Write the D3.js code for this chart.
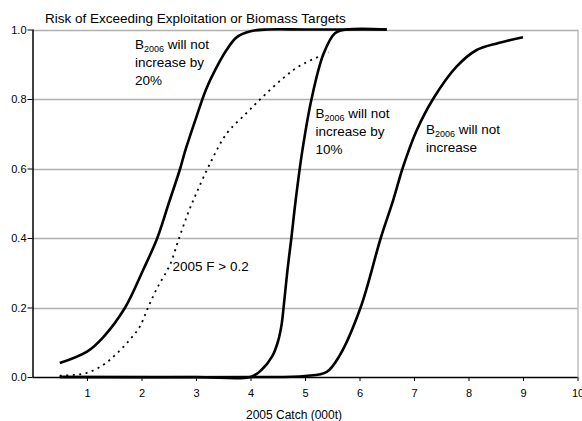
<!DOCTYPE html>
<html>
<head>
<meta charset="utf-8">
<script src="https://cdn.jsdelivr.net/npm/d3@7"></script>
<style>
  body { margin: 0; background: #fff; }
  text { font-family: 'Liberation Sans', Arial, sans-serif; fill: #000; }
</style>
</head>
<body>
<div id="chart"></div>
<script>
'use strict';

var xTicks = [1, 2, 3, 4, 5, 6, 7, 8, 9, 10];
var yTicks = [0, 0.2, 0.4, 0.6, 0.8, 1.0];

// B2006 will not increase by 20%
var inc20X = [0.5, 1.0, 1.3, 1.7, 2.03, 2.29, 2.5, 2.71, 2.8, 3.0, 3.18, 3.35, 3.56, 3.75, 4.0, 4.3, 5.0, 6.5];
var inc20Y = [0.04, 0.073, 0.115, 0.2, 0.308, 0.40, 0.50, 0.60, 0.65, 0.745, 0.826, 0.883, 0.941, 0.978, 0.995, 1.0, 1.0, 1.0];

// 2005 F > 0.2
var fX = [0.5, 0.75, 1.0, 1.3, 1.55, 1.8, 1.97, 2.12, 2.3, 2.52, 2.69, 2.85, 3.01, 3.26, 3.56, 3.93, 4.23, 4.6, 4.9, 5.43];
var fY = [0.004, 0.006, 0.012, 0.035, 0.068, 0.11, 0.145, 0.20, 0.26, 0.322, 0.40, 0.47, 0.53, 0.615, 0.70, 0.76, 0.807, 0.86, 0.895, 0.934];

// B2006 will not increase by 10%
var inc10X = [0.5, 3.0, 4.0, 4.2, 4.4, 4.5, 4.57, 4.62, 4.68, 4.75, 4.83, 4.95, 5.12, 5.34, 5.55, 5.77, 6.5];
var inc10Y = [0, 0, 0, 0.02, 0.06, 0.10, 0.15, 0.22, 0.31, 0.40, 0.51, 0.65, 0.80, 0.93, 0.989, 1.0, 1.0];

// B2006 will not increase
var inc0X = [0.5, 4.0, 5.0, 5.4, 5.64, 6.02, 6.39, 6.62, 6.8, 7.05, 7.35, 7.78, 8.15, 8.55, 9.0];
var inc0Y = [0, 0, 0.003, 0.015, 0.063, 0.20, 0.40, 0.51, 0.605, 0.71, 0.80, 0.893, 0.941, 0.961, 0.978];

var w = 582, h = 421;
var plotLeft = 32.5, plotRight = 577.5, plotTop = 29.5, plotBottom = 377;

var svg = d3.select('#chart')
  .append('svg')
  .attr('width', w)
  .attr('height', h);

var x = d3.scaleLinear().domain([0, 10]).range([plotLeft, plotRight]);
var y = d3.scaleLinear().domain([0, 1]).range([plotBottom, plotTop]);

// gridlines
svg.append('g')
  .selectAll('line')
  .data(yTicks.slice(1))
  .enter()
  .append('line')
  .attr('x1', plotLeft)
  .attr('x2', plotRight)
  .attr('y1', function(d) { return Math.round(y(d)) + 0.5; })
  .attr('y2', function(d) { return Math.round(y(d)) + 0.5; })
  .attr('stroke', '#b0b0b0')
  .attr('stroke-width', 1.5);

// right border
svg.append('line')
  .attr('x1', plotRight + 0.5)
  .attr('x2', plotRight + 0.5)
  .attr('y1', plotTop)
  .attr('y2', plotBottom)
  .attr('stroke', '#a0a0a0')
  .attr('stroke-width', 1);

// axes
var xAxis = d3.axisBottom(x).tickValues(xTicks).tickSize(4).tickFormat(d3.format('d'));
var yAxis = d3.axisLeft(y).tickValues(yTicks).tickSize(5).tickFormat(d3.format('.1f'));

var gx = svg.append('g')
  .attr('transform', 'translate(0,' + plotBottom + ')')
  .call(xAxis);
gx.select('.domain').attr('d', 'M' + plotLeft + ',0.5H' + plotRight).attr('stroke-width', 1.5);
gx.selectAll('text').attr('font-size', 11).attr('dy', '1.15em').attr('font-family', 'Liberation Sans, Arial, sans-serif');

var gy = svg.append('g')
  .attr('transform', 'translate(' + plotLeft + ',0)')
  .call(yAxis);
gy.select('.domain').attr('d', 'M0.5,' + plotTop + 'V' + plotBottom).attr('stroke-width', 1.5);
gy.selectAll('text').attr('font-size', 11).attr('x', -6).attr('font-family', 'Liberation Sans, Arial, sans-serif');

// curves
var line = d3.line()
  .x(function(d) { return x(d[0]); })
  .y(function(d) { return y(d[1]); })
  .curve(d3.curveCatmullRom.alpha(0.5));

function series(xs, ys) {
  return xs.map(function(v, i) { return [v, ys[i]]; });
}

[[inc0X, inc0Y], [inc10X, inc10Y], [inc20X, inc20Y]].forEach(function(s) {
  svg.append('path')
    .attr('d', line(series(s[0], s[1])))
    .attr('fill', 'none')
    .attr('stroke', '#000')
    .attr('stroke-width', 2.6)
    .attr('stroke-linejoin', 'round');
});

svg.append('path')
  .attr('d', line(series(fX, fY)))
  .attr('fill', 'none')
  .attr('stroke', '#000')
  .attr('stroke-width', 1.8)
  .attr('stroke-dasharray', '2,4.5');

// title
svg.append('text')
  .attr('x', 45)
  .attr('y', 23)
  .attr('font-size', 13.5)
  .text('Risk of Exceeding Exploitation or Biomass Targets');

svg.append('text')
  .attr('x', 294)
  .attr('y', 419)
  .attr('text-anchor', 'middle')
  .attr('font-size', 12)
  .text('2005 Catch (000t)');

// curve labels
function bLabel(px, py, rest) {
  var t = svg.append('text').attr('x', px).attr('y', py).attr('font-size', 13.5);
  t.append('tspan').text('B');
  t.append('tspan').attr('font-size', 9).attr('dy', 3).text('2006');
  t.append('tspan').attr('dy', -3).text(' will not');
  rest.forEach(function(r, i) {
    svg.append('text')
      .attr('x', px)
      .attr('y', py + 18 * (i + 1))
      .attr('font-size', 13.5)
      .text(r);
  });
}

bLabel(135, 49, ['increase by', '20%']);
bLabel(315.5, 118, ['increase by', '10%']);
bLabel(426, 134, ['increase']);

svg.append('text')
  .attr('x', 172.5)
  .attr('y', 270.5)
  .attr('font-size', 13.5)
  .text('2005 F > 0.2');
</script>
</body>
</html>
